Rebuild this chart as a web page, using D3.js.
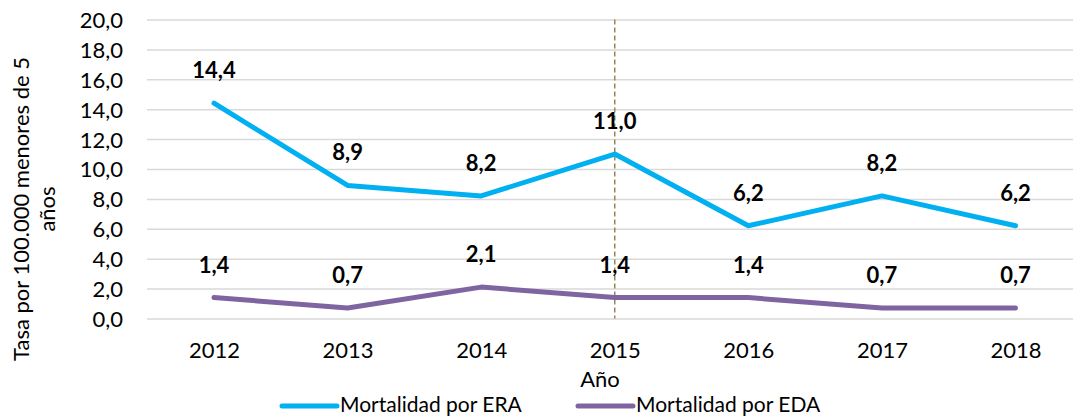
<!DOCTYPE html>
<html lang="es">
<head>
    <meta charset="UTF-8">
    <title>Mortalidad ERA / EDA</title>
    <script src="https://cdn.jsdelivr.net/npm/d3@7"></script>
    <style>
        body { margin: 0; background: #fff; }
        text { font-family: Lato, "Open Sans", sans-serif; fill: #000; }
    </style>
</head>
<body>
<script>
    const years = ['2012', '2013', '2014', '2015', '2016', '2017', '2018']
    const era = [14.4, 8.9, 8.2, 11.0, 6.2, 8.2, 6.2]
    const eda = [1.4, 0.7, 2.1, 1.4, 1.4, 0.7, 0.7]
    const yTicks = [0, 2, 4, 6, 8, 10, 12, 14, 16, 18, 20]
    const markYear = '2015'

    const [width, height] = [1073, 418]
    const fs = '22px'
    const fmt = v => d3.format('.1f')(v).replace('.', ',')

    const x = d3.scalePoint()
        .domain(years)
        .range([214, 1015.5])
    const y = d3.scaleLinear()
        .domain([0, 20])
        .range([318.5, 19.5])

    const svg = d3.select('body').append('svg')
        .attr('width', width)
        .attr('height', height)

    // grid
    svg.append('g')
        .call(d3.axisLeft(y).tickValues(yTicks).tickSize(-935).tickFormat(fmt))
        .attr('transform', 'translate(147,0)')
        .call(g => g.select('.domain').remove())
        .call(g => g.selectAll('.tick line').attr('stroke', '#d9d9d9').attr('stroke-width', 1.5))
        .call(g => g.selectAll('.tick text')
            .attr('x', -24)
            .attr('dy', '0.36em')
            .style('font-size', fs)
            .style('font-family', 'Lato, sans-serif')
            .attr('fill', '#000'))

    // x labels
    svg.append('g')
        .attr('transform', 'translate(0,318.5)')
        .call(d3.axisBottom(x).tickSize(0).tickPadding(0))
        .call(g => g.select('.domain').remove())
        .call(g => g.selectAll('.tick text')
            .attr('y', 39)
            .attr('dy', 0)
            .style('font-size', fs)
            .style('font-family', 'Lato, sans-serif')
            .attr('fill', '#000'))

    // vertical dashed line at 2015
    svg.append('line')
        .attr('x1', x(markYear)).attr('x2', x(markYear))
        .attr('y1', y(20)).attr('y2', y(0))
        .attr('stroke', '#948a54')
        .attr('stroke-width', 1.5)
        .attr('stroke-dasharray', '5,3')

    const line = d3.line()
        .x((d, i) => x(years[i]))
        .y(d => y(d))

    const series = [
        {name: 'Mortalidad por ERA', values: era, color: '#00b0f0'},
        {name: 'Mortalidad por EDA', values: eda, color: '#8064a2'}
    ]

    series.forEach(s => {
        svg.append('path')
            .attr('d', line(s.values))
            .attr('fill', 'none')
            .attr('stroke', s.color)
            .attr('stroke-width', 5)
            .attr('stroke-linecap', 'round')
            .attr('stroke-linejoin', 'round')
        svg.selectAll(null).data(s.values).enter()
            .append('text')
            .attr('x', (d, i) => x(years[i]))
            .attr('y', d => y(d) - 25)
            .attr('text-anchor', 'middle')
            .style('font-size', fs)
            .style('font-weight', 'bold')
            .text(d => fmt(d))
    })

    // axis titles
    svg.append('text')
        .attr('x', 600).attr('y', 387)
        .attr('text-anchor', 'middle')
        .style('font-size', fs)
        .text('Año')

    const yTitle = svg.append('text')
        .attr('transform', 'translate(29,209) rotate(-90)')
        .attr('text-anchor', 'middle')
        .style('font-size', fs)
    yTitle.append('tspan').attr('x', 0).attr('y', 0).text('Tasa por 100.000 menores de 5')
    yTitle.append('tspan').attr('x', 0).attr('y', 26).text('años')

    // legend
    const legend = svg.append('g').attr('transform', 'translate(0,406)')
    const legX = [282, 578]
    series.forEach((s, i) => {
        legend.append('line')
            .attr('x1', legX[i]).attr('x2', legX[i] + 55)
            .attr('stroke', s.color)
            .attr('stroke-width', 5)
            .attr('stroke-linecap', 'round')
        legend.append('text')
            .attr('x', legX[i] + 58)
            .attr('dy', '0.3em')
            .style('font-size', '21px')
            .text(s.name)
    })
</script>
</body>
</html>
